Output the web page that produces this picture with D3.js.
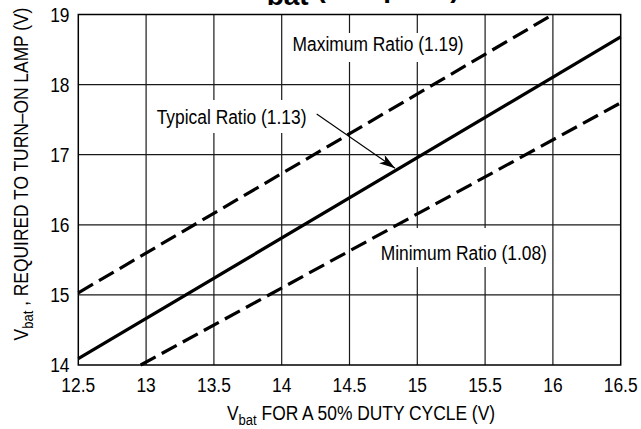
<!DOCTYPE html>
<html>
<head>
<meta charset="utf-8">
<script src="https://cdn.jsdelivr.net/npm/d3@7"></script>
<style>
  html, body { margin: 0; padding: 0; background: #fff; }
  svg { display: block; }
  text { font-family: "Liberation Sans", Arial, Helvetica, sans-serif; fill: #000; }
</style>
</head>
<body>
<svg id="chart" width="641" height="429"></svg>
<script>
// ---- data ----
const xTicks = [12.5, 13, 13.5, 14, 14.5, 15, 15.5, 16, 16.5];
const xTickLabels = ["12.5", "13", "13.5", "14", "14.5", "15", "15.5", "16", "16.5"];
const yTicks = [14, 15, 16, 17, 18, 19];
const yTickLabels = ["14", "15", "16", "17", "18", "19"];

const maxRatio = [[12.5, 15.03], [16.0, 19.0]];      // Maximum Ratio (1.19)
const typRatio = [[12.5, 14.09], [16.5, 18.68]];     // Typical Ratio (1.13)
const minRatio = [[12.96, 14.0], [16.5, 17.74]];     // Minimum Ratio (1.08)

const seriesNames = ["Maximum Ratio (1.19)", "Typical Ratio (1.13)", "Minimum Ratio (1.08)"];

// ---- layout ----
const svg = d3.select("#chart");
const L = 78.3, R = 620.7, T = 14.5, B = 365;
const x = d3.scaleLinear().domain([12.5, 16.5]).range([L, R]);
const y = d3.scaleLinear().domain([14, 19]).range([B, T]);
const SX = 0.87, FS = 20;

function ctext(g, px, py, str, anchor) {
  return g.append("text")
    .attr("transform", `translate(${px},${py}) scale(${SX},1)`)
    .attr("text-anchor", anchor || "start")
    .style("font-size", FS + "px")
    .text(str);
}

// grid
const grid = svg.append("g");
grid.selectAll("line.vx").data(xTicks.slice(1, -1)).enter().append("line")
  .attr("x1", d => x(d)).attr("x2", d => x(d)).attr("y1", T).attr("y2", B)
  .attr("stroke", "#1a1a1a").attr("stroke-width", 1.2);
grid.selectAll("line.hy").data(yTicks.slice(1, -1)).enter().append("line")
  .attr("x1", L).attr("x2", R).attr("y1", d => y(d)).attr("y2", d => y(d))
  .attr("stroke", "#1a1a1a").attr("stroke-width", 1.2);

// annotation backgrounds (break gridlines)
const annots = [
  { name: seriesNames[0], x: 14.08, y: 18.48, top: 33, bot: 62 },
  { name: seriesNames[1], x: 13.078, y: 17.438, top: 100, bot: 133 },
  { name: seriesNames[2], x: 14.73, y: 15.498, top: 228, bot: 267 }
];
const ag = svg.append("g");
annots.forEach(a => {
  const t = ctext(ag, x(a.x), y(a.y), a.name);
  const w = t.node().getComputedTextLength() * SX;
  ag.insert("rect", "text")
    .attr("x", x(a.x) - 3).attr("y", a.top)
    .attr("width", w + 6).attr("height", a.bot - a.top)
    .attr("fill", "#fff");
});

// frame
svg.append("rect").attr("x", L).attr("y", T).attr("width", R - L).attr("height", B - T)
  .attr("fill", "none").attr("stroke", "#000").attr("stroke-width", 1.5);

// series lines
const line = d3.line().x(d => x(d[0])).y(d => y(d[1]));
const lg = svg.append("g").attr("fill", "none").attr("stroke", "#000").attr("stroke-width", 3.2);
lg.append("path").attr("d", line(maxRatio)).attr("stroke-dasharray", "17,7");
lg.append("path").attr("d", line(typRatio));
lg.append("path").attr("d", line(minRatio)).attr("stroke-dasharray", "17,7");

// leader arrow
svg.append("defs").append("marker")
  .attr("id", "arr").attr("viewBox", "0 0 16 10").attr("refX", 16).attr("refY", 5)
  .attr("markerWidth", 16).attr("markerHeight", 10).attr("markerUnits", "userSpaceOnUse")
  .attr("orient", "auto")
  .append("path").attr("d", "M0,0 L16,5 L0,10 L4,5 Z").attr("fill", "#000");
svg.append("line")
  .attr("x1", x(14.258)).attr("y1", y(17.58))
  .attr("x2", x(14.836)).attr("y2", y(16.806))
  .attr("stroke", "#000").attr("stroke-width", 1.1).attr("marker-end", "url(#arr)");

// tick labels
const tg = svg.append("g");
yTicks.forEach((v, i) => {
  ctext(tg, 69.5, y(v) + 7, yTickLabels[i], "end");
});
xTicks.forEach((v, i) => {
  ctext(tg, x(v), 391.5, xTickLabels[i], "middle");
});

// x axis title
const xt = svg.append("text")
  .attr("transform", `translate(361,420) scale(${SX},1)`)
  .attr("text-anchor", "middle").style("font-size", FS + "px");
xt.append("tspan").text("V");
xt.append("tspan").attr("dy", 5).style("font-size", "15px").text("bat");
xt.append("tspan").attr("dy", -5).text(" FOR A 50% DUTY CYCLE (V)");

// y axis title
const yt = svg.append("text")
  .attr("transform", `translate(27.5,174) rotate(-90) scale(${SX},1)`)
  .attr("text-anchor", "middle").style("font-size", FS + "px");
yt.append("tspan").text("V");
yt.append("tspan").attr("dy", 5).style("font-size", "15px").text("bat");
yt.append("tspan").attr("dy", -5).text(" , REQUIRED TO TURN\u2013ON LAMP (V)");

// chart title (cropped at top in the reference)
const tt = svg.append("text")
  .attr("x", 248).attr("y", -3)
  .style("font-size", "28px").style("font-weight", "bold");
tt.append("tspan").text("V");
tt.append("tspan").attr("dy", 8).text("bat");
tt.append("tspan").attr("dy", -8).text(" (Lamp ON)");
</script>
</body>
</html>
